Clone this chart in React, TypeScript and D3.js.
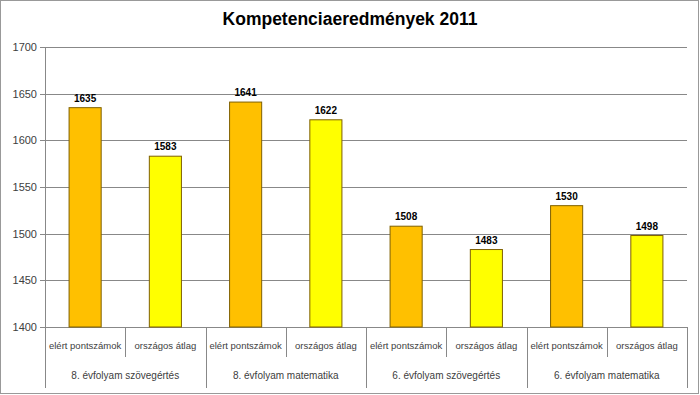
import React from 'react'
import * as d3 from 'd3'

const groups = ['8. évfolyam szövegértés', '8. évfolyam matematika', '6. évfolyam szövegértés', '6. évfolyam matematika']
const series = ['elért pontszámok', 'országos átlag']
const elert = [1635, 1641, 1508, 1530]
const orszagos = [1583, 1622, 1483, 1498]
const yTicks = [1400, 1450, 1500, 1550, 1600, 1650, 1700]
const barColors = ['#FFC000', '#FFFF00']

const width = 700
const height = 395
const left = 45
const right = 687
const top = 47
const bottom = 327
const font = '"Liberation Sans", Arial, sans-serif'

export default function App() {
  const bars = groups.flatMap((g, gi) => [
    {key: `${gi}-0`, group: gi, s: 0, value: elert[gi]},
    {key: `${gi}-1`, group: gi, s: 1, value: orszagos[gi]},
  ])
  const x = d3.scaleBand().domain(bars.map(b => b.key)).range([left, right]).paddingInner(0).paddingOuter(0)
  const y = d3.scaleLinear().domain([1400, 1700]).range([bottom, top])
  const bw = x.bandwidth()
  const barW = bw * 0.4

  return <svg width={width} height={height} style={{position: 'absolute', left: 0, top: 0}}>
    <rect x={0.5} y={0.5} width={width - 2} height={height - 2} fill="white" stroke="#999" />
    <text x={width / 2} y={25} textAnchor="middle" fontFamily={font} fontSize={17.5} fontWeight="bold" fill="#000">
      Kompetenciaeredmények 2011
    </text>
    {yTicks.map(t => <g key={t}>
      <line x1={left - 5} x2={right} y1={Math.round(y(t)) + 0.5} y2={Math.round(y(t)) + 0.5} stroke="#888" />
      <text x={37} y={y(t) + 4} textAnchor="end" fontFamily={font} fontSize={11} fill="#404040">{t}</text>
    </g>)}
    <line x1={left + 0.5} x2={left + 0.5} y1={top} y2={388} stroke="#888" />
    {bars.map((b, i) => {
      const x0 = x(b.key)!
      const cx = x0 + bw / 2
      return <g key={b.key}>
        <rect x={cx - barW / 2} y={y(b.value)} width={barW} height={y(1400) - y(b.value)}
              fill={barColors[b.s]} stroke="#7F6000" strokeWidth={1} />
        <text x={cx} y={y(b.value) - 6} textAnchor="middle" fontFamily={font} fontSize={10} fontWeight="bold" fill="#000">{b.value}</text>
        <text x={cx} y={349} textAnchor="middle" fontFamily={font} fontSize={9.5} fill="#404040">{series[b.s]}</text>
        <line x1={Math.round(x0 + bw) + 0.5} x2={Math.round(x0 + bw) + 0.5} y1={bottom} y2={b.s === 1 ? 388 : 357} stroke="#888" />
      </g>
    })}
    {groups.map((g, gi) => {
      const cx = x(`${gi}-0`)! + bw
      return <text key={g} x={cx} y={379} textAnchor="middle" fontFamily={font} fontSize={10} fill="#404040">{g}</text>
    })}
  </svg>
}
